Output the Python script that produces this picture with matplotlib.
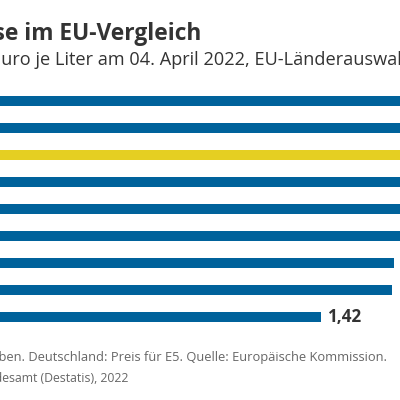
import matplotlib
matplotlib.use("Agg")
import matplotlib.pyplot as plt

# Data (top to bottom)
countries = ["Dänemark", "Finnland", "Deutschland", "Niederlande", "Italien",
             "Frankreich", "Österreich", "Spanien", "Polen"]
prices = [2.29, 2.26, 2.07, 2.05, 1.93, 1.86, 1.74, 1.73, 1.42]
highlight = "Deutschland"

title = "Benzinpreise im EU-Vergleich"
subtitle = "Euro je Liter am 04. April 2022, EU-Länderauswahl"
note1 = "Durchschnittspreise inklusive Steuern und Abgaben. Deutschland: Preis für E5. Quelle: Europäische Kommission."
note2 = "© Statistisches Bundesamt (Destatis), 2022"

BLUE = "#00629b"
YELLOW = "#e5cf22"
DARK = "#333333"
GREY = "#666666"

plt.rcParams["font.family"] = ["Open Sans", "DejaVu Sans"]

W = H = 400
fig = plt.figure(figsize=(4, 4), dpi=100)

def fx(px):
    return px / W

def fy(py):
    return 1 - py / H

# axes: data 0 at px -2; 1.42 ends at px 321
x0_px = -2
scale = (321 - x0_px) / 1.42
xmax = (W - x0_px) / scale
top_px, bot_px = 87.5, 330.5
ax = fig.add_axes([fx(x0_px), fy(bot_px), fx(W - x0_px), (bot_px - top_px) / H])

ypos = list(range(len(countries)))
colors = [YELLOW if c == highlight else BLUE for c in countries]
ax.barh(ypos, prices, height=0.37, color=colors, edgecolor="none")
ax.set_xlim(0, xmax)
ax.set_ylim(len(countries) - 0.5, -0.5)
ax.set_yticks(ypos)
ax.set_yticklabels(countries)
ax.tick_params(left=False, bottom=False, labelbottom=False, labelleft=False)
for s in ax.spines.values():
    s.set_visible(False)

for y, v in zip(ypos, prices):
    ax.annotate(f"{v:.2f}".replace(".", ","), (v, y), xytext=(4.5, 0),
                textcoords="offset points", ha="left", va="center",
                fontsize=12.3, fontweight="bold", color=DARK, clip_on=False)

fig.text(fx(201), fy(34), title, ha="right", va="center", fontsize=16.4,
         fontweight="bold", color=DARK)
fig.text(fx(-9), fy(60), subtitle, ha="left", va="center", fontsize=13.1,
         color=DARK)
fig.text(fx(387), fy(358), note1, ha="right", va="center", fontsize=9.3,
         color=GREY)
fig.text(fx(128), fy(378), note2, ha="right", va="center", fontsize=8.8,
         color=GREY)

fig.savefig("out.png", dpi=100)
